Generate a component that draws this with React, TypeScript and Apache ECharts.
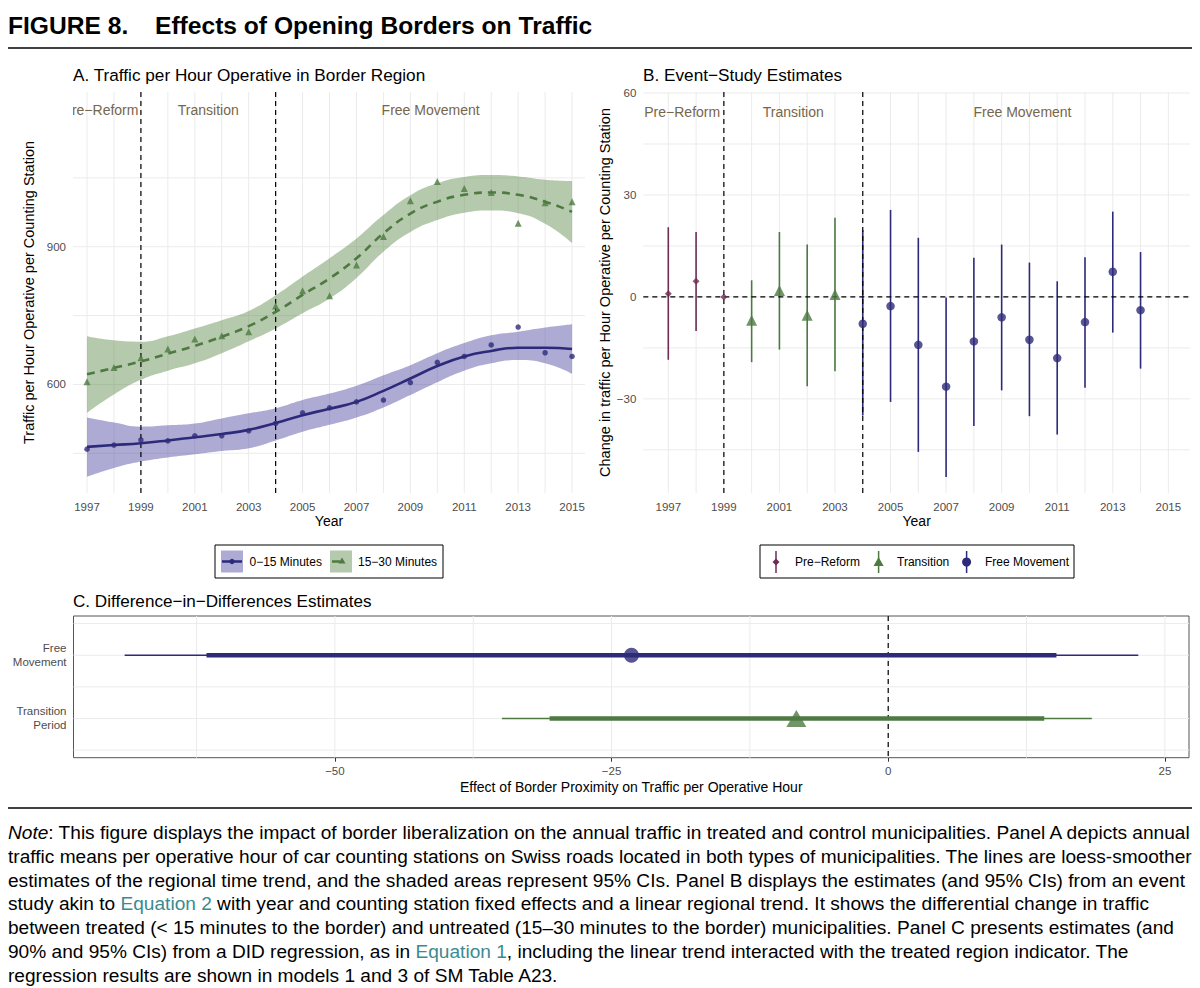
import React, { useEffect, useRef } from 'react';
import * as echarts from 'echarts';

const FONT = '"Liberation Sans", Arial, Helvetica, sans-serif';
const NAVY = '#2e2a7b';
const GREEN = '#4e7a42';
const MAROON = '#6e2d55';
const BLUE_BAND = 'rgba(74, 66, 160, 0.45)';
const GREEN_BAND = 'rgba(90, 135, 70, 0.45)';
const ANNO = '#76664c';
const GRIDC = '#ebebeb';
const LABELC = '#4d4d4d';
const TEAL = '#3b8a91';

// ---------- Panel A: traffic per hour ----------
const years = [1997, 1998, 1999, 2000, 2001, 2002, 2003, 2004, 2005, 2006, 2007, 2008, 2009, 2010, 2011, 2012, 2013, 2014, 2015];
const blueObs = [459, 468, 479, 477, 488, 488, 499, 515, 538, 549, 562, 566, 604, 648, 661, 686, 725, 669, 661];
const blueFit = [464, 468, 472, 478, 485, 492, 501, 516, 533, 547, 562, 586, 613, 640, 661, 673, 680, 680, 677];
const blueLo = [399, 418, 432, 441, 448, 455, 461, 478, 497, 512, 528, 550, 577, 605, 630, 646, 653, 646, 623];
const blueHi = [528, 517, 508, 511, 515, 526, 537, 548, 566, 580, 597, 620, 642, 668, 690, 707, 715, 724, 731];
const greenObs = [606, 637, 658, 677, 699, 706, 715, 771, 804, 793, 860, 922, 1000, 1042, 1027, 1018, 951, 996, 998];
const greenFit = [622, 636, 650, 667, 684, 704, 727, 758, 795, 831, 875, 929, 972, 998, 1013, 1018, 1013, 998, 976];
const greenLo = [538, 578, 610, 630, 646, 668, 694, 722, 755, 787, 832, 889, 932, 958, 974, 979, 973, 950, 908];
const greenHi = [705, 696, 693, 705, 722, 740, 760, 794, 835, 875, 918, 969, 1012, 1038, 1052, 1056, 1053, 1046, 1043];

const periodBreaks = [1999, 2004];
const annoLabels = ['Pre\u2212Reform', 'Transition', 'Free Movement'];
const annoX = [1997.5, 2001.5, 2009.75];
const annoYA = 1198;
const annoYB = 54.5;

const xTickYears = [1997, 1999, 2001, 2003, 2005, 2007, 2009, 2011, 2013, 2015];
const yTicksA = [600, 900];
const gridYA = [450, 600, 750, 900, 1050];

// ---------- Panel B: event study ----------
const bYears = [1997, 1998, 1999, 2000, 2001, 2002, 2003, 2004, 2005, 2006, 2007, 2008, 2009, 2010, 2011, 2012, 2013, 2014];
const bEst = [0.9, 4.6, 0, -6.9, 1.9, -5.4, 0.7, -7.9, -2.7, -14.1, -26.4, -13.1, -6.0, -12.6, -18.0, -7.4, 7.4, -3.9];
const bLo = [-18.5, -10.0, 0, -19.2, -15.5, -26.3, -21.9, -34.9, -30.9, -45.6, -53.0, -38.0, -27.5, -35.1, -40.5, -26.7, -10.5, -21.1];
const bHi = [20.5, 19.1, 0, 4.9, 19.1, 15.4, 23.3, 19.6, 25.6, 17.4, -0.2, 11.5, 15.4, 10.1, 4.6, 11.7, 25.1, 13.2];
const bPeriod = [0, 0, 0, 1, 1, 1, 1, 2, 2, 2, 2, 2, 2, 2, 2, 2, 2, 2];
const periodNames = ['Pre\u2212Reform', 'Transition', 'Free Movement'];
const yTicksB = [-30, 0, 30, 60];
const gridYB = [-45, -30, -15, 0, 15, 30, 45, 60];

// ---------- Panel C: DiD ----------
const cCats = ['Transition\nPeriod', 'Free\nMovement'];
const cEst = [-8.3, -23.2];
const c90Lo = [-30.6, -61.6];
const c90Hi = [14.1, 15.2];
const c95Lo = [-34.9, -69.0];
const c95Hi = [18.4, 22.6];
const xTicksC = [-50, -25, 0, 25];
const gridXC = [-62.5, -50, -37.5, -25, -12.5, 0, 12.5, 25];
const gridYC = [0.5, 1, 1.5, 2, 2.5];

const periodColors = [MAROON, GREEN, NAVY];
const minus = (v: number) => (v < 0 ? '\u2212' + Math.abs(v) : String(v));

function txt(text: string, x: number, y: number, size: number, o: any = {}) {
  const align = o.align || 'left';
  return {
    type: 'text', x, y, silent: true, z: 10,
    style: {
      text, fill: o.fill || '#000', fontSize: size, fontFamily: FONT,
      fontWeight: o.weight || 'normal', fontStyle: o.style || 'normal',
      align, textAlign: align, verticalAlign: 'middle', textVerticalAlign: 'middle',
      rich: o.rich,
    },
  };
}

function lineSeries(xi: number, xs: number[], ys: number[], color: string, width: number, dash: any, z: number) {
  const data: any[] = [];
  xs.forEach((v) => data.push([v, 0, 0]));
  ys.forEach((v) => data.push([0, v, 1]));
  return {
    type: 'custom', xAxisIndex: xi, yAxisIndex: xi, z, silent: true, clip: false,
    data,
    renderItem: (params: any, api: any) => {
      const cs = params.coordSys;
      const p = api.coord([api.value(0), api.value(1)]);
      const style: any = { stroke: color, lineWidth: width };
      if (dash) style.lineDash = dash;
      if (api.value(2) === 0) {
        return { type: 'line', shape: { x1: p[0], y1: cs.y, x2: p[0], y2: cs.y + cs.height }, style };
      }
      return { type: 'line', shape: { x1: cs.x, y1: p[1], x2: cs.x + cs.width, y2: p[1] }, style };
    },
  };
}

function annoSeries(xi: number, yv: number) {
  return {
    type: 'custom', xAxisIndex: xi, yAxisIndex: xi, z: 6, silent: true, clip: true,
    data: annoX.map((x, i) => [x, yv, i]),
    renderItem: (params: any, api: any) => {
      const p = api.coord([api.value(0), api.value(1)]);
      return {
        type: 'text', x: p[0], y: p[1],
        style: {
          text: annoLabels[api.value(2)], fill: ANNO, fontSize: 14, fontFamily: FONT,
          align: 'center', textAlign: 'center', verticalAlign: 'middle', textVerticalAlign: 'middle',
        },
      };
    },
  };
}

const axisLabelBase = { color: LABELC, fontSize: 11.5, fontFamily: FONT };
const nameStyle = { color: '#000', fontSize: 14, fontFamily: FONT };
const yNameStyle = { color: '#000', fontSize: 14.5, fontFamily: FONT };

function buildOption() {
  const series: any[] = [];
  // Panel A
  series.push(lineSeries(0, years, gridYA, GRIDC, 1, null, 0));
  series.push({
    type: 'line', xAxisIndex: 0, yAxisIndex: 0, stack: 'blueBand', smooth: true, symbol: 'none', silent: true, z: 1,
    encode: { x: 1, y: 0 }, data: years.map((y, i) => [blueLo[i], y]), lineStyle: { opacity: 0 },
  });
  series.push({
    type: 'line', xAxisIndex: 0, yAxisIndex: 0, stack: 'blueBand', smooth: true, symbol: 'none', silent: true, z: 1,
    encode: { x: 1, y: 0 }, data: years.map((y, i) => [blueHi[i] - blueLo[i], y]), lineStyle: { opacity: 0 },
    areaStyle: { color: BLUE_BAND, opacity: 1 },
  });
  series.push({
    type: 'line', xAxisIndex: 0, yAxisIndex: 0, stack: 'greenBand', smooth: true, symbol: 'none', silent: true, z: 1,
    encode: { x: 1, y: 0 }, data: years.map((y, i) => [greenLo[i], y]), lineStyle: { opacity: 0 },
  });
  series.push({
    type: 'line', xAxisIndex: 0, yAxisIndex: 0, stack: 'greenBand', smooth: true, symbol: 'none', silent: true, z: 1,
    encode: { x: 1, y: 0 }, data: years.map((y, i) => [greenHi[i] - greenLo[i], y]), lineStyle: { opacity: 0 },
    areaStyle: { color: GREEN_BAND, opacity: 1 },
  });
  series.push(lineSeries(0, periodBreaks, [], '#000', 1.2, [5, 4], 3));
  series.push({
    type: 'line', xAxisIndex: 0, yAxisIndex: 0, smooth: true, symbol: 'none', z: 4,
    data: years.map((y, i) => [y, blueFit[i]]), lineStyle: { color: NAVY, width: 2.6 },
  });
  series.push({
    type: 'line', xAxisIndex: 0, yAxisIndex: 0, smooth: true, symbol: 'none', z: 4,
    data: years.map((y, i) => [y, greenFit[i]]), lineStyle: { color: GREEN, width: 2.6, type: [8, 6] },
  });
  series.push({
    type: 'scatter', xAxisIndex: 0, yAxisIndex: 0, z: 5, symbol: 'circle', symbolSize: 5.5,
    data: years.map((y, i) => [y, blueObs[i]]), itemStyle: { color: NAVY },
  });
  series.push({
    type: 'scatter', xAxisIndex: 0, yAxisIndex: 0, z: 5, symbol: 'triangle', symbolSize: 7,
    data: years.map((y, i) => [y, greenObs[i]]), itemStyle: { color: GREEN },
  });
  series.push(annoSeries(0, annoYA));

  // Panel B
  series.push(lineSeries(1, years, gridYB, GRIDC, 1, null, 0));
  series.push(lineSeries(1, periodBreaks, [0], '#000', 1.2, [5, 4], 5));
  series.push({
    type: 'custom', xAxisIndex: 1, yAxisIndex: 1, z: 4, silent: true,
    data: bYears.map((y, i) => [y, bLo[i], bHi[i], bPeriod[i]]),
    renderItem: (params: any, api: any) => {
      const lo = api.coord([api.value(0), api.value(1)]);
      const hi = api.coord([api.value(0), api.value(2)]);
      return {
        type: 'line', shape: { x1: lo[0], y1: lo[1], x2: hi[0], y2: hi[1] },
        style: { stroke: periodColors[api.value(3)], lineWidth: 1.6 },
      };
    },
  });
  const symbols = ['diamond', 'triangle', 'circle'];
  const sizes = [7, 11, 8.5];
  [0, 1, 2].forEach((p) => {
    series.push({
      type: 'scatter', xAxisIndex: 1, yAxisIndex: 1, z: 6, symbol: symbols[p], symbolSize: sizes[p],
      name: periodNames[p],
      data: bYears.map((y, i) => (bPeriod[i] === p ? [y, bEst[i]] : null)).filter((d) => d),
      itemStyle: { color: periodColors[p] },
    });
  });
  series.push(annoSeries(1, annoYB));

  // Panel C
  series.push(lineSeries(2, gridXC, gridYC, GRIDC, 1, null, 0));
  series.push(lineSeries(2, [0], [], '#000', 1.2, [5, 4], 3));
  series.push({
    type: 'custom', xAxisIndex: 2, yAxisIndex: 2, z: 4, silent: true,
    data: cEst.map((e, i) => [c95Lo[i], i + 1, c95Hi[i], c90Lo[i], c90Hi[i], i]),
    renderItem: (params: any, api: any) => {
      const cy = api.value(1);
      const color = api.value(5) === 1 ? NAVY : GREEN;
      const a = api.coord([api.value(0), cy]);
      const b = api.coord([api.value(2), cy]);
      const c = api.coord([api.value(3), cy]);
      const d = api.coord([api.value(4), cy]);
      return {
        type: 'group',
        children: [
          { type: 'line', shape: { x1: a[0], y1: a[1], x2: b[0], y2: b[1] }, style: { stroke: color, lineWidth: 1.5 } },
          { type: 'line', shape: { x1: c[0], y1: c[1], x2: d[0], y2: d[1] }, style: { stroke: color, lineWidth: 4.5 } },
        ],
      };
    },
  });
  series.push({
    type: 'scatter', xAxisIndex: 2, yAxisIndex: 2, z: 6, symbol: 'circle', symbolSize: 15,
    data: [[cEst[1], 2]], itemStyle: { color: NAVY },
  });
  series.push({
    type: 'scatter', xAxisIndex: 2, yAxisIndex: 2, z: 6, symbol: 'triangle', symbolSize: [20, 17],
    data: [[cEst[0], 1]], itemStyle: { color: GREEN },
  });

  const noAxisLine = { show: false };
  const xAxis: any[] = [
    {
      type: 'value', gridIndex: 0, min: 1996.48, max: 2015.48,
      axisLine: noAxisLine, axisTick: { show: false }, splitLine: { show: false },
      axisLabel: { ...axisLabelBase, customValues: xTickYears, formatter: (v: number) => String(v), margin: 8 },
      name: 'Year', nameLocation: 'middle', nameGap: 21, nameTextStyle: nameStyle,
    },
    {
      type: 'value', gridIndex: 1, min: 1996.1, max: 2015.78,
      axisLine: noAxisLine, axisTick: { show: false }, splitLine: { show: false },
      axisLabel: { ...axisLabelBase, customValues: xTickYears, formatter: (v: number) => String(v), margin: 8 },
      name: 'Year', nameLocation: 'middle', nameGap: 21, nameTextStyle: nameStyle,
    },
    {
      type: 'value', gridIndex: 2, min: -73.62, max: 27.18,
      axisLine: noAxisLine, splitLine: { show: false },
      axisTick: { show: true, customValues: xTicksC, length: 4, lineStyle: { color: '#333', width: 1 } },
      axisLabel: { ...axisLabelBase, customValues: xTicksC, formatter: (v: number) => minus(v), margin: 7 },
      name: 'Effect of Border Proximity on Traffic per Operative Hour', nameLocation: 'middle', nameGap: 22,
      nameTextStyle: nameStyle,
    },
  ];
  const yAxis: any[] = [
    {
      type: 'value', gridIndex: 0, min: 363.5, max: 1237,
      axisLine: noAxisLine, axisTick: { show: false }, splitLine: { show: false },
      axisLabel: { ...axisLabelBase, customValues: yTicksA, formatter: (v: number) => String(v), margin: 7 },
      name: 'Traffic per Hour Operative per Counting Station', nameLocation: 'middle', nameGap: 37, nameRotate: 90,
      nameTextStyle: yNameStyle,
    },
    {
      type: 'value', gridIndex: 1, min: -57.7, max: 60.3,
      axisLine: noAxisLine, axisTick: { show: false }, splitLine: { show: false },
      axisLabel: { ...axisLabelBase, customValues: yTicksB, formatter: (v: number) => minus(v), margin: 7 },
      name: 'Change in traffic per Hour Operative per Counting Station', nameLocation: 'middle', nameGap: 28, nameRotate: 90,
      nameTextStyle: yNameStyle,
    },
    {
      type: 'value', gridIndex: 2, min: 0.38, max: 2.62,
      axisLine: noAxisLine, splitLine: { show: false },
      axisTick: { show: true, customValues: [1, 2], length: 4, lineStyle: { color: '#333', width: 1 } },
      axisLabel: {
        ...axisLabelBase, customValues: [1, 2], lineHeight: 14, align: 'right',
        formatter: (v: number) => cCats[Math.round(v) - 1] || '', margin: 7,
      },
    },
  ];

  const tri = (cx: number, cy: number, w: number, h: number) => [[cx, cy - h / 2], [cx + w / 2, cy + h / 2], [cx - w / 2, cy + h / 2]];
  const dia = (cx: number, cy: number, s: number) => [[cx, cy - s / 2], [cx + s / 2, cy], [cx, cy + s / 2], [cx - s / 2, cy]];

  const NOTE_SIZE = 19.1;
  const noteRich = {
    n: { fontSize: NOTE_SIZE, fontFamily: FONT, fill: '#000', fontStyle: 'italic' },
    e: { fontSize: NOTE_SIZE, fontFamily: FONT, fill: TEAL },
    t: { fontSize: NOTE_SIZE, fontFamily: FONT, fill: '#000' },
  };
  const noteLines = [
    '{n|Note}{t|: This figure displays the impact of border liberalization on the annual traffic in treated and control municipalities. Panel A depicts annual}',
    '{t|traffic means per operative hour of car counting stations on Swiss roads located in both types of municipalities. The lines are loess-smoother}',
    '{t|estimates of the regional time trend, and the shaded areas represent 95% CIs. Panel B displays the estimates (and 95% CIs) from an event}',
    '{t|study akin to }{e|Equation 2}{t| with year and counting station fixed effects and a linear regional trend. It shows the differential change in traffic}',
    '{t|between treated (< 15 minutes to the border) and untreated (15\u201330 minutes to the border) municipalities. Panel C presents estimates (and}',
    '{t|90% and 95% CIs) from a DID regression, as in }{e|Equation 1}{t|, including the linear trend interacted with the treated region indicator. The}',
    '{t|regression results are shown in models 1 and 3 of SM Table A23.}',
  ];
  const noteY = [832, 856, 880, 903.5, 927.5, 951.5, 975];

  const graphic: any[] = [
    txt('FIGURE 8.', 8, 25, 24.6, { weight: 'bold' }),
    txt('Effects of Opening Borders on Traffic', 155, 25, 24.6, { weight: 'bold' }),
    { type: 'line', silent: true, shape: { x1: 8, y1: 48, x2: 1192, y2: 48 }, style: { stroke: '#000', lineWidth: 1.5 } },
    { type: 'line', silent: true, shape: { x1: 8, y1: 808, x2: 1192, y2: 808 }, style: { stroke: '#000', lineWidth: 1.5 } },
    txt('A. Traffic per Hour Operative in Border Region', 73, 75, 17.2),
    txt('B. Event\u2212Study Estimates', 643, 75, 17.2),
    txt('C. Difference\u2212in\u2212Differences Estimates', 73, 601, 17.1),
    // Legend A
    { type: 'rect', silent: true, shape: { x: 215, y: 545, width: 228, height: 33 }, style: { fill: '#fff', stroke: '#000', lineWidth: 1 } },
    { type: 'rect', silent: true, shape: { x: 221, y: 550.5, width: 22, height: 22 }, style: { fill: BLUE_BAND } },
    { type: 'line', silent: true, shape: { x1: 222, y1: 561.5, x2: 242, y2: 561.5 }, style: { stroke: NAVY, lineWidth: 2.5 } },
    { type: 'circle', silent: true, shape: { cx: 232, cy: 561.5, r: 2.7 }, style: { fill: NAVY } },
    txt('0\u221215 Minutes', 249.5, 562, 12),
    { type: 'rect', silent: true, shape: { x: 330, y: 550.5, width: 22, height: 22 }, style: { fill: GREEN_BAND } },
    { type: 'line', silent: true, shape: { x1: 332, y1: 561.5, x2: 340, y2: 561.5 }, style: { stroke: GREEN, lineWidth: 2.5 } },
    { type: 'polygon', silent: true, shape: { points: tri(342, 560.5, 7, 6) }, style: { fill: GREEN } },
    txt('15\u221230 Minutes', 358, 562, 12),
    // Legend B
    { type: 'rect', silent: true, shape: { x: 760, y: 545, width: 314, height: 33 }, style: { fill: '#fff', stroke: '#000', lineWidth: 1 } },
    { type: 'line', silent: true, shape: { x1: 776, y1: 551, x2: 776, y2: 573 }, style: { stroke: MAROON, lineWidth: 1.5 } },
    { type: 'polygon', silent: true, shape: { points: dia(776, 562, 7) }, style: { fill: MAROON } },
    txt('Pre\u2212Reform', 795, 562, 12),
    { type: 'line', silent: true, shape: { x1: 878.6, y1: 551, x2: 878.6, y2: 573 }, style: { stroke: GREEN, lineWidth: 1.5 } },
    { type: 'polygon', silent: true, shape: { points: tri(878.6, 561.5, 10, 9) }, style: { fill: GREEN } },
    txt('Transition', 897, 562, 12),
    { type: 'line', silent: true, shape: { x1: 966.6, y1: 551, x2: 966.6, y2: 573 }, style: { stroke: NAVY, lineWidth: 1.5 } },
    { type: 'circle', silent: true, shape: { cx: 966.6, cy: 562, r: 4.5 }, style: { fill: NAVY } },
    txt('Free Movement', 985, 562, 12),
  ];
  noteLines.forEach((l, i) => graphic.push(txt(l, 8, noteY[i], NOTE_SIZE, { rich: noteRich })));

  return {
    animation: false,
    backgroundColor: '#fff',
    textStyle: { fontFamily: FONT },
    grid: [
      { left: 73, top: 92, width: 512, height: 401, outerBoundsMode: 'none', containLabel: false },
      { left: 643.3, top: 92, width: 546.7, height: 401, outerBoundsMode: 'none', containLabel: false },
      { left: 73.5, top: 616, width: 1115.5, height: 141.7, show: true, borderColor: '#555', borderWidth: 1, backgroundColor: 'transparent', outerBoundsMode: 'none', containLabel: false },
    ],
    xAxis,
    yAxis,
    series,
    graphic,
  };
}

export default function App() {
  const ref = useRef<HTMLDivElement>(null);
  useEffect(() => {
    if (!ref.current) return;
    const chart = echarts.init(ref.current, null, { renderer: 'svg' });
    chart.setOption(buildOption() as any);
    return () => chart.dispose();
  }, []);
  return (
    <div
      ref={ref}
      style={{ position: 'absolute', left: 0, top: 0, width: 1200, height: 988, background: '#fff' }}
    />
  );
}
